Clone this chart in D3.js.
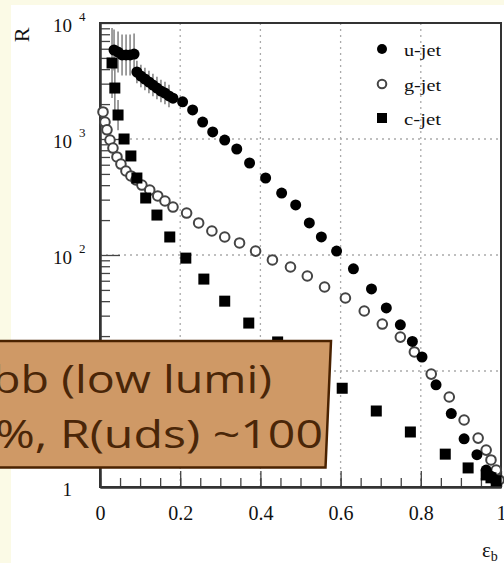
<!DOCTYPE html>
<html>
<head>
<meta charset="utf-8">
<style>
body {
  margin: 0;
  background: #fbfae6;
}
svg {
  display: block;
}
.serif {
  font-family: "Liberation Serif", "Times New Roman", serif;
  fill: #111;
}
</style>
</head>
<body>
<svg width="504" height="563"></svg>
<script src="https://d3js.org/d3.v7.min.js"></script>
<script>

// u-jet (filled circles)
var uEff = [0.035, 0.045, 0.055, 0.065, 0.075, 0.085,
  0.092, 0.102, 0.112, 0.122, 0.132, 0.142, 0.152, 0.162, 0.172,
  0.182, 0.206, 0.231, 0.256, 0.281, 0.311, 0.341, 0.373, 0.413, 0.453,
  0.488, 0.522, 0.552, 0.590, 0.632, 0.677, 0.714, 0.749, 0.779, 0.803,
  0.838, 0.876, 0.908, 0.940, 0.963, 0.975, 0.985];
var uR = [5850, 5620, 5300, 5300, 5300, 5400,
  3780, 3490, 3290, 3100, 2920, 2750, 2590, 2490, 2350,
  2250, 2090, 1780, 1400, 1150, 980, 820, 621, 461, 342,
  270, 189, 143, 108, 76, 51, 35, 25, 18, 13.2,
  7.6, 4.3, 2.6, 1.9, 1.4, 1.24, 1.15];
// multiplicative error (1 = no bar)
var uErr = [1.5, 1.5, 1.5, 1.5, 1.5, 1.5,
  1.25, 1.25, 1.25, 1.25, 1.25, 1.25, 1.25, 1.25, 1.25];

// g-jet (open circles)
var gEff = [0.0075, 0.0124, 0.0174, 0.0249, 0.0323, 0.0423, 0.0522, 0.0647, 0.0771, 0.0896,
  0.1045, 0.124, 0.144, 0.162, 0.182, 0.216, 0.246, 0.279, 0.311, 0.348,
  0.388, 0.430, 0.475, 0.517, 0.560, 0.612, 0.659, 0.704, 0.749, 0.784,
  0.826, 0.871, 0.908, 0.943, 0.963, 0.975, 0.988, 0.995];
var gR = [1710, 1400, 1200, 980, 836, 700, 608, 530, 480, 443,
  401, 363, 323, 292, 259, 230, 189, 161, 143, 127,
  108, 90.6, 78.8, 65.9, 53, 42.6, 32.9, 25.4, 19.6, 14.6,
  9.4, 5.97, 3.78, 2.64, 2.08, 1.71, 1.40, 1.15];

// c-jet (filled squares)
var cEff = [0.030, 0.037, 0.045, 0.060, 0.077, 0.092, 0.114, 0.142, 0.174, 0.214,
  0.259, 0.311, 0.371, 0.443, 0.522, 0.604, 0.689, 0.774, 0.861, 0.918,
  0.963, 0.975, 0.988];
var cR = [4520, 2750, 1610, 1000, 714, 461, 310, 221, 143, 94,
  62, 40, 25.9, 17.8, 11.3, 7.1, 4.52, 2.98, 1.92, 1.46,
  1.27, 1.2, 1.13];
var cErr = [2.0, 1.6, 1.35];

var xTicks = [0, 0.2, 0.4, 0.6, 0.8, 1];
var xTickLabels = ["0", "0.2", "0.4", "0.6", "0.8", "1"];
var yTicks = [1, 10, 100, 1000, 10000];
// the 10^1 label sits under the note box, so it is left blank
var yTickBase = ["1", "", "10", "10", "10"];
var yTickExp = ["", "", "2", "3", "4"];
var legendLabels = ["u-jet", "g-jet", "c-jet"];
var boxLines = ["bb (low lumi)", "%, R(uds) ~100"];

var svg = d3.select("svg");

var x = d3.scaleLinear().domain([0, 1]).range([100, 501]);
var y = d3.scaleLog().domain([1, 1e4]).range([487, 23]);

// white slide panel
svg.append("rect")
  .attr("x", 11).attr("y", 5)
  .attr("width", 493).attr("height", 558)
  .attr("fill", "#fff");

// dotted grid
var grid = svg.append("g")
  .attr("stroke", "#aaa")
  .attr("stroke-width", 1.3)
  .attr("stroke-dasharray", "2,4");

grid.selectAll(".gx")
  .data(xTicks.slice(1, -1))
  .enter().append("line")
  .attr("x1", function(d) { return x(d) })
  .attr("x2", function(d) { return x(d) })
  .attr("y1", y(1e4))
  .attr("y2", y(1));

grid.selectAll(".gy")
  .data(yTicks.slice(1, -1))
  .enter().append("line")
  .attr("y1", function(d) { return y(d) })
  .attr("y2", function(d) { return y(d) })
  .attr("x1", x(0))
  .attr("x2", x(1));

// axes with inward ticks
var yMinor = y.ticks().filter(function(d) { return yTicks.indexOf(d) < 0 });

var gxMinor = svg.append("g")
  .attr("transform", "translate(0," + y(1) + ")")
  .call(d3.axisBottom(x).tickValues(x.ticks(20)).tickSize(-9).tickSizeOuter(0).tickFormat(""));

var gxMajor = svg.append("g")
  .attr("transform", "translate(0," + y(1) + ")")
  .call(d3.axisBottom(x).tickValues(xTicks).tickSize(-16).tickSizeOuter(0)
    .tickPadding(19).tickFormat(function(d, i) { return xTickLabels[i] }));

gxMajor.selectAll("text")
  .attr("class", "serif")
  .attr("font-size", 20);

var gyMinor = svg.append("g")
  .attr("transform", "translate(" + x(0) + ",0)")
  .call(d3.axisLeft(y).tickValues(yMinor).tickSize(-10).tickSizeOuter(0).tickFormat(""));

var gyMajor = svg.append("g")
  .attr("transform", "translate(" + x(0) + ",0)")
  .call(d3.axisLeft(y).tickValues(yTicks).tickSize(-20).tickSizeOuter(0).tickFormat(""));

svg.selectAll(".tick line").attr("stroke", "#444").attr("stroke-width", 1.3);
svg.selectAll(".domain").attr("stroke", "#333").attr("stroke-width", 2);

// frame
svg.append("rect")
  .attr("x", x(0)).attr("y", y(1e4))
  .attr("width", x(1) - x(0)).attr("height", y(1) - y(1e4))
  .attr("fill", "none")
  .attr("stroke", "#333")
  .attr("stroke-width", 2);

// y labels 10^n
svg.selectAll(".ylab")
  .data(yTicks)
  .enter().append("text")
  .attr("class", "serif")
  .attr("font-size", 19)
  .attr("text-anchor", "end")
  .attr("x", 72)
  .attr("y", function(d) { return y(d) + 9 })
  .text(function(d, i) { return yTickBase[i] });

svg.selectAll(".yexp")
  .data(yTicks)
  .enter().append("text")
  .attr("class", "serif")
  .attr("font-size", 13)
  .attr("x", 79)
  .attr("y", function(d) { return y(d) - 2 })
  .text(function(d, i) { return yTickExp[i] });

// axis titles
svg.append("text")
  .attr("class", "serif")
  .attr("font-size", 22)
  .attr("text-anchor", "middle")
  .attr("transform", "translate(29,35) rotate(-90)")
  .text("R");

var eps = svg.append("text")
  .attr("class", "serif")
  .attr("font-size", 21)
  .attr("x", 482)
  .attr("y", 557)
  .text("ε");
eps.append("tspan")
  .attr("font-size", 14)
  .attr("dy", 4)
  .text("b");

// error bars
function errBars(eff, vals, errs) {
  var idx = d3.range(errs.length);
  svg.append("g")
    .attr("stroke", "#888")
    .attr("stroke-width", 1.6)
    .selectAll("line")
    .data(idx)
    .enter().append("line")
    .attr("x1", function(i) { return x(eff[i]) })
    .attr("x2", function(i) { return x(eff[i]) })
    .attr("y1", function(i) { return y(vals[i] * errs[i]) })
    .attr("y2", function(i) { return y(vals[i] / errs[i]) });
}
errBars(uEff, uR, uErr);
errBars(cEff, cR, cErr);

// g-jet open circles
svg.append("g")
  .selectAll("circle")
  .data(d3.range(gEff.length))
  .enter().append("circle")
  .attr("cx", function(i) { return x(gEff[i]) })
  .attr("cy", function(i) { return y(gR[i]) })
  .attr("r", 4.8)
  .attr("fill", "#fff")
  .attr("stroke", "#444")
  .attr("stroke-width", 2);

// c-jet squares
svg.append("g")
  .selectAll("rect")
  .data(d3.range(cEff.length))
  .enter().append("rect")
  .attr("x", function(i) { return x(cEff[i]) - 5.5 })
  .attr("y", function(i) { return y(cR[i]) - 5.5 })
  .attr("width", 11)
  .attr("height", 11)
  .attr("fill", "#000");

// u-jet filled circles
svg.append("g")
  .selectAll("circle")
  .data(d3.range(uEff.length))
  .enter().append("circle")
  .attr("cx", function(i) { return x(uEff[i]) })
  .attr("cy", function(i) { return y(uR[i]) })
  .attr("r", 5.5)
  .attr("fill", "#000");

// legend
var leg = svg.append("g");
leg.append("circle").attr("cx", 382).attr("cy", 49).attr("r", 5).attr("fill", "#000");
leg.append("circle").attr("cx", 382).attr("cy", 84).attr("r", 4.3)
  .attr("fill", "#fff").attr("stroke", "#444").attr("stroke-width", 2);
leg.append("rect").attr("x", 377).attr("y", 113).attr("width", 10).attr("height", 10).attr("fill", "#000");

leg.selectAll("text")
  .data(legendLabels)
  .enter().append("text")
  .attr("class", "serif")
  .attr("font-size", 17)
  .attr("x", 404)
  .attr("y", function(d, i) { return 56 + i * 34.5 })
  .attr("textLength", 37)
  .attr("lengthAdjust", "spacingAndGlyphs")
  .text(function(d) { return d });

// overlay note box
svg.append("path")
  .attr("d", "M-5,341L331,341L325.5,467.5L-5,467.5Z")
  .attr("fill", "#cf9966")
  .attr("stroke", "#4a2200")
  .attr("stroke-width", 2.5);

svg.selectAll(".note")
  .data(boxLines)
  .enter().append("text")
  .attr("font-family", "'Open Sans', sans-serif")
  .attr("font-size", 38)
  .attr("fill", "#4a2608")
  .attr("x", function(d, i) { return i == 0 ? -8 : -5 })
  .attr("y", function(d, i) { return i == 0 ? 393 : 448 })
  .attr("textLength", function(d, i) { return i == 0 ? 280 : 328 })
  .attr("lengthAdjust", "spacingAndGlyphs")
  .text(function(d) { return d });

</script>
</body>
</html>
